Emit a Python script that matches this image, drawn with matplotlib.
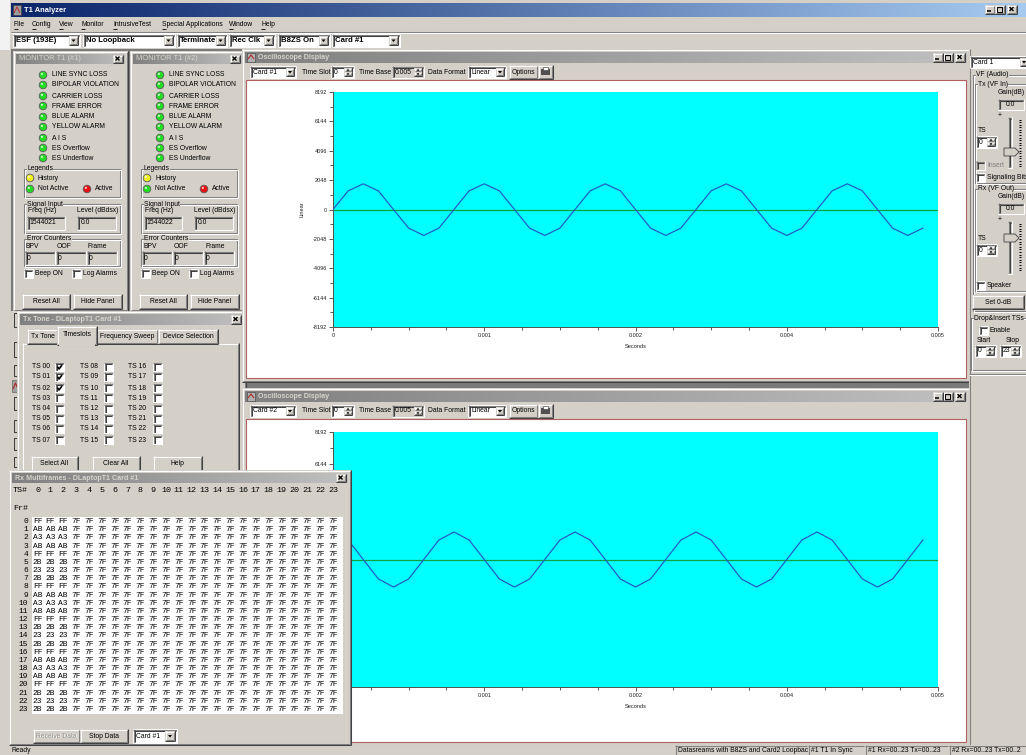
import numpy as np
import matplotlib
matplotlib.use("Agg")
import matplotlib.pyplot as plt
from matplotlib.patches import Rectangle, Circle, Polygon
from matplotlib.lines import Line2D
from matplotlib.colors import to_rgb
from matplotlib.ticker import FixedLocator, FixedFormatter

# ---------------------------------------------------------------- data
card1_linear = [0, 1300, 1790, 1300, 0, -1300, -1810, -1300,
                0, 1300, 1790, 1300, 0, -1300, -1810, -1300,
                0, 1300, 1790, 1300, 0, -1300, -1810, -1300,
                0, 1300, 1790, 1300, 0, -1300, -1810, -1300,
                0, 1300, 1790, 1300, 0, -1300, -1810, -1300]
card2_linear = [1770, 1250, 0, -1250, -1770, -1250, 0, 1250,
                1770, 1250, 0, -1250, -1770, -1250, 0, 1250,
                1770, 1250, 0, -1250, -1770, -1250, 0, 1250,
                1770, 1250, 0, -1250, -1770, -1250, 0, 1250,
                1770, 1250, 0, -1250, -1770, -1250, 0, 1250]
sample_period = 0.000125
time_base = 0.005
time_ticks = [0.0, 0.00125, 0.0025, 0.00375, 0.005]
time_tick_labels = ["0", "0.001", "0.002", "0.004", "0.005"]
level_ticks = [-8192, -6144, -4096, -2048, 0, 2048, 4096, 6144, 8192]
level_tick_labels = ["-8192", "-6144", "-4096", "-2048", "0", "2048", "4096", "6144", "8192"]

menu_items = ["File", "Config", "View", "Monitor", "IntrusiveTest",
              "Special Applications", "Window", "Help"]
toolbar_items = ["ESF (193E)", "No Loopback", "Terminate", "Rec Clk", "B8ZS On", "Card #1"]
alarm_names = ["LINE SYNC LOSS", "BIPOLAR VIOLATION", "CARRIER LOSS", "FRAME ERROR",
               "BLUE ALARM", "YELLOW ALARM", "A I S", "ES Overflow", "ES Underflow"]
monitor_titles = ["MONITOR T1 (#1)", "MONITOR T1 (#2)"]
freq_readings = ["1544021", "1544022"]
level_readings = ["0.0", "0.0"]
error_counts = [["0", "0", "0"], ["0", "0", "0"]]
timeslots_checked = [0, 1, 2]
rx_ts_0_2 = ["FF", "AB", "A3", "AB", "FF", "2B", "23", "2B",
             "FF", "AB", "A3", "AB", "FF", "2B", "23", "2B",
             "FF", "AB", "A3", "AB", "FF", "2B", "23", "2B"]
rx_idle_code = "7F"
status_panes = ["Datasreams with B8ZS and Card2 Loopbac", "#1 T1 In Sync",
                "#1 Rx=00..23 Tx=00..23", "#2 Rx=00..23 Tx=00..2"]

# ---------------------------------------------------------------- style
W, H = 1026, 755
FACE = "#D4D0C8"
SHADOW = "#808080"
DKSHADOW = "#404040"
HILITE = "#FFFFFF"
UI = ["Liberation Sans", "DejaVu Sans"]
MONO = ["Liberation Mono", "DejaVu Sans Mono"]
FS = 4.9

fig = plt.figure(figsize=(W / 100, H / 100), dpi=100)
bg = fig.add_axes([0, 0, 1, 1], zorder=0)
ov = fig.add_axes([0, 0, 1, 1], zorder=5)
for a in (bg, ov):
    a.axis("off")
ov.patch.set_visible(False)

_z = [10]


def Z():
    _z[0] += 1
    return _z[0]


def rect(ax, x0, y0, x1, y1, fc, ec="none", lw=0.0):
    ax.add_patch(Rectangle((x0, y0), x1 - x0, y1 - y0, facecolor=fc,
                           edgecolor=ec, linewidth=lw, zorder=Z()))


def seg(ax, xs, ys, c, lw=1.0, ls="-"):
    ax.add_line(Line2D(xs, ys, color=c, linewidth=0.75 * lw, linestyle=ls,
                       zorder=Z(), solid_capstyle="butt"))


def txt(ax, x, y, s, size=FS, color="black", ha="left", va="center",
        bold=False, family=None, **kw):
    ax.text(x, y, s, fontsize=size, color=color, ha=ha, va=va,
            fontweight="bold" if bold else "normal",
            family=family or UI, zorder=Z(), **kw)


def hl(ax, x0, x1, y, c):
    seg(ax, [x0, x1], [y + 0.5, y + 0.5], c)


def vl(ax, x, y0, y1, c):
    seg(ax, [x + 0.5, x + 0.5], [y0, y1], c)


def sunken(ax, x0, y0, x1, y1, fc="white"):
    rect(ax, x0, y0, x1, y1, fc)
    hl(ax, x0, x1, y0, SHADOW)
    vl(ax, x0, y0, y1, SHADOW)
    hl(ax, x0 + 1, x1 - 1, y0 + 1, DKSHADOW)
    vl(ax, x0 + 1, y0 + 1, y1 - 1, DKSHADOW)
    hl(ax, x0, x1, y1 - 1, HILITE)
    vl(ax, x1 - 1, y0, y1, HILITE)


def raised(ax, x0, y0, x1, y1, fc=FACE):
    rect(ax, x0, y0, x1, y1, fc)
    hl(ax, x0, x1 - 1, y0, HILITE)
    vl(ax, x0, y0, y1 - 1, HILITE)
    hl(ax, x0, x1, y1 - 1, DKSHADOW)
    vl(ax, x1 - 1, y0, y1, DKSHADOW)
    hl(ax, x0 + 1, x1 - 1, y1 - 2, SHADOW)
    vl(ax, x1 - 2, y0 + 1, y1 - 1, SHADOW)


def button(ax, x0, y0, x1, y1, label, color="black", size=FS):
    raised(ax, x0, y0, x1, y1)
    if color != "black":
        txt(ax, (x0 + x1) / 2 + 0.7, (y0 + y1) / 2 + 0.7, label, size=size,
            color="white", ha="center")
    txt(ax, (x0 + x1) / 2, (y0 + y1) / 2, label, size=size, color=color, ha="center")


def tri(ax, cx, cy, s=2.0, up=False, c="black"):
    if up:
        pts = [[cx - s, cy + s / 2], [cx + s, cy + s / 2], [cx, cy - s / 2 - 0.5]]
    else:
        pts = [[cx - s, cy - s / 2], [cx + s, cy - s / 2], [cx, cy + s / 2 + 0.5]]
    ax.add_patch(Polygon(pts, closed=True, facecolor=c, edgecolor="none", zorder=Z()))


def combo(ax, x0, y0, x1, y1, label, bold=False, size=FS):
    sunken(ax, x0, y0, x1, y1, "white")
    bw = y1 - y0 - 4
    raised(ax, x1 - 2 - bw, y0 + 2, x1 - 2, y1 - 2)
    tri(ax, x1 - 2 - bw / 2, (y0 + y1) / 2, 2.0)
    txt(ax, x0 + 3, (y0 + y1) / 2, label, size=size, bold=bold)


def spin(ax, x0, y0, x1, y1, label, fc="white", size=FS):
    sunken(ax, x0, y0, x1, y1, fc)
    bw = 8
    ym = (y0 + y1) / 2
    raised(ax, x1 - 2 - bw, y0 + 2, x1 - 2, ym)
    raised(ax, x1 - 2 - bw, ym, x1 - 2, y1 - 2)
    tri(ax, x1 - 2 - bw / 2, (y0 + 2 + ym) / 2, 1.5, up=True)
    tri(ax, x1 - 2 - bw / 2, (ym + y1 - 2) / 2, 1.5)
    txt(ax, x0 + 3, ym, label, size=size)


def checkbox(ax, x, y, checked=False, label=None, lx=None, disabled=False):
    sunken(ax, x, y, x + 9, y + 9, FACE if disabled else "white")
    if checked:
        seg(ax, [x + 2.5, x + 4, x + 7], [y + 4.3, y + 6.5, y + 2.5], "black", lw=1.6)
    if label:
        txt(ax, lx if lx is not None else x + 12, y + 4.5, label,
            color=SHADOW if disabled else "black")


def group(ax, x0, y0, x1, y1, label=None):
    ax.add_patch(Rectangle((x0 + 0.5, y0 + 0.5), x1 - x0 - 2, y1 - y0 - 2, fill=False,
                           edgecolor=SHADOW, linewidth=0.75, zorder=Z()))
    ax.add_patch(Rectangle((x0 + 1.5, y0 + 1.5), x1 - x0 - 2, y1 - y0 - 2, fill=False,
                           edgecolor=HILITE, linewidth=0.75, zorder=Z()))
    if label:
        txt(ax, x0 + 4, y0 + 1, label,
            bbox=dict(facecolor=FACE, edgecolor="none", pad=0.2))


def led(ax, x, y, color, r=3.8):
    ax.add_patch(Circle((x, y), r, facecolor=color, edgecolor="#5A5A5A",
                        linewidth=0.6, zorder=Z()))
    ax.add_patch(Circle((x - 1.1, y - 1.1), 1.1, facecolor="white", edgecolor="none",
                        alpha=0.75, zorder=Z()))


def gradient(ax, x0, y0, x1, y1, c0, c1):
    a = np.array(to_rgb(c0))
    b = np.array(to_rgb(c1))
    t = np.linspace(0, 1, 256)[None, :, None]
    img = a + (b - a) * t
    ax.imshow(img, extent=(x0, x1, y1, y0), aspect="auto",
              interpolation="bilinear", zorder=Z())


def cap_btn(ax, x0, y0, kind, w=10, h=9):
    raised(ax, x0, y0, x0 + w, y0 + h)
    cx, cy = x0 + w / 2 - 0.5, y0 + h / 2 - 0.5
    if kind == "min":
        seg(ax, [cx - 2.5, cx + 1.5], [cy + 2.2, cy + 2.2], "black", lw=1.5)
    elif kind == "max":
        ax.add_patch(Rectangle((cx - 2.5, cy - 2.5), 5, 5, fill=False, edgecolor="black",
                               linewidth=0.7, zorder=Z()))
        seg(ax, [cx - 2.5, cx + 2.5], [cy - 2.2, cy - 2.2], "black", lw=1.2)
    else:
        seg(ax, [cx - 2, cx + 2], [cy - 2, cy + 2], "black", lw=1.3)
        seg(ax, [cx - 2, cx + 2], [cy + 2, cy - 2], "black", lw=1.3)


def window(ax, x0, y0, x1, y1, title, bold=True, title_h=11, icon=False,
           buttons=("close",), active=False, tsize=5.1):
    raised(ax, x0, y0, x1, y1)
    c0, c1 = ("#0A246A", "#A6CAF0") if active else ("#808080", "#C0C0C0")
    gradient(ax, x0 + 3, y0 + 3, x1 - 3, y0 + 3 + title_h, c0, c1)
    tx = x0 + 6
    if icon:
        rect(ax, x0 + 5, y0 + 4, x0 + 13, y0 + 3 + title_h - 1, "#B0B0B0", ec="#505050", lw=0.5)
        seg(ax, [x0 + 6, x0 + 9, x0 + 12], [y0 + 10, y0 + 6, y0 + 10], "#B02020", lw=1)
        tx = x0 + 16
    txt(ax, tx, y0 + 3 + title_h / 2, title, color="white" if active else "#D8D4CC",
        bold=bold, size=tsize)
    bx = x1 - 5
    for k in reversed(buttons):
        w = 10
        cap_btn(ax, bx - w, y0 + 4, k, w=w, h=title_h - 2)
        bx -= (w + 2) if k == "close" else w


# ---------------------------------------------------------------- background
rect(bg, 0, 0, W, H, FACE)
rect(bg, 0, 0, 10, 50, "#F2F2F2")
vl(bg, 10, 49, 745, DKSHADOW)
# main title bar
gradient(bg, 11, 3, W, 17, "#0A246A", "#A6CAF0")
rect(bg, 13, 5, 21, 15, "#9C9C9C", ec="#404040", lw=0.5)
seg(bg, [14, 17, 20], [13, 7, 13], "#C03030", lw=1)
txt(bg, 24, 10, "T1 Analyzer", color="white", bold=True, size=5.4)
cap_btn(bg, 985, 5, "min", w=10, h=9)
cap_btn(bg, 995, 5, "max", w=10, h=9)
cap_btn(bg, 1007, 5, "close", w=10, h=9)

# menu bar
menu_x = [14, 32, 59, 81, 113, 162, 229, 261]
for mx, m in zip(menu_x, menu_items):
    txt(bg, mx, 25, m)
    seg(bg, [mx, mx + 3.5], [28.5, 28.5], "black", lw=0.8)
hl(bg, 11, W, 31, SHADOW)
hl(bg, 11, W, 32, HILITE)

# main toolbar combos
combo_x = [(13, 80), (83, 175), (177, 227), (229, 275), (278, 330), (332, 400)]
for (x0, x1), lab in zip(combo_x, toolbar_items):
    combo(bg, x0, 34, x1, 47, lab, bold=True, size=5.6)

# MDI client area
rect(bg, 11, 49, 969, 745, "#7A7A7A")

# ---------------------------------------------------------------- monitor panels
led_rows = [75, 85, 96, 106, 117, 127, 138, 148, 158]
for k in range(2):
    dx = 117 * k
    window(bg, 13 + dx, 51, 128 + dx, 311, monitor_titles[k], bold=False, title_h=10,
           tsize=5.4)
    for yy, name in zip(led_rows, alarm_names):
        led(bg, 43 + dx, yy, "#22DD22")
        txt(bg, 52 + dx, yy, name)
    group(bg, 23 + dx, 168, 121 + dx, 198, "Legends")
    led(bg, 30 + dx, 178, "#F0F020")
    txt(bg, 38 + dx, 178, "History")
    led(bg, 30 + dx, 189, "#22DD22")
    txt(bg, 38 + dx, 189, "Not Active")
    led(bg, 87 + dx, 189, "#EE1010")
    txt(bg, 95 + dx, 189, "Active")
    group(bg, 23 + dx, 203, 121 + dx, 234, "Signal Input")
    txt(bg, 28 + dx, 211, "Freq (Hz)")
    txt(bg, 77 + dx, 211, "Level (dBdsx)")
    sunken(bg, 27 + dx, 216, 65 + dx, 230, FACE)
    txt(bg, 29 + dx, 223, freq_readings[k])
    sunken(bg, 77 + dx, 216, 116 + dx, 230, FACE)
    txt(bg, 81 + dx, 223, level_readings[k])
    group(bg, 23 + dx, 238, 121 + dx, 267, "Error Counters")
    txt(bg, 26 + dx, 246, "BPV")
    txt(bg, 57 + dx, 246, "OOF")
    txt(bg, 88 + dx, 246, "Frame")
    for (bx0, bx1), val in zip([(25, 55), (56, 86), (87, 117)], error_counts[k]):
        sunken(bg, bx0 + dx, 251, bx1 + dx, 265, FACE)
        txt(bg, bx0 + dx + 2, 258, val)
    checkbox(bg, 24 + dx, 269, label="Beep ON", lx=35 + dx)
    checkbox(bg, 72 + dx, 269, label="Log Alarms", lx=83 + dx)
    button(bg, 22 + dx, 294, 70 + dx, 309, "Reset All")
    button(bg, 73 + dx, 294, 122 + dx, 309, "Hide Panel")

# hidden window fragments at the left
rect(bg, 11, 311, 19, 472, FACE)
for (ya, yb) in [(313, 327), (342, 357), (365, 376), (397, 410), (420, 432), (438, 450), (457, 467)]:
    seg(bg, [17, 13.5, 13.5, 17], [ya, ya, yb, yb], DKSHADOW, lw=1)
rect(bg, 12, 380, 19, 392, "#A0A0A0", ec="#505050", lw=0.4)
seg(bg, [13, 15.5, 18], [389, 383, 389], "#B02020", lw=1)

# ---------------------------------------------------------------- Tx Tone window
window(bg, 17, 311, 246, 482, "Tx Tone - DLaptopT1 Card #1", title_h=11)
tabs = [(27, 58, "Tx Tone"), (58, 96, "Timeslots"), (96, 158, "Frequency Sweep"),
        (158, 218, "Device Selection")]
raised(bg, 22, 343, 239, 482)
for x0, x1, lab in tabs:
    if lab == "Timeslots":
        continue
    raised(bg, x0, 329, x1, 344)
    txt(bg, (x0 + x1) / 2, 336.5, lab, ha="center")
raised(bg, 57, 326, 97, 345)
rect(bg, 59, 342, 95, 346, FACE)
txt(bg, 77, 335, "Timeslots", ha="center")
ts_rows = [367, 377, 388, 398, 409, 419, 429, 440]
col_lab_x = [32, 80, 128]
col_box_x = [55, 104, 153]
for c in range(3):
    for r in range(8):
        n = c * 8 + r
        txt(bg, col_lab_x[c], ts_rows[r], "TS %02d" % n)
        checkbox(bg, col_box_x[c], ts_rows[r] - 4.5, checked=(n in timeslots_checked))
button(bg, 31, 456, 78, 471, "Select All")
button(bg, 92, 456, 140, 471, "Clear All")
button(bg, 153, 456, 202, 471, "Help")

# ---------------------------------------------------------------- oscilloscope windows
scope_frames = [(49, 382, "Card #1"), (388, 746, "Card #2")]
for (y0, y1, card) in scope_frames:
    window(bg, 242, y0, 970, y1, "Oscilloscope Display", title_h=11, icon=True,
           buttons=("min", "max", "close"))
    ty = y0 + 23
    combo(bg, 250, ty - 6, 296, ty + 6, card)
    txt(bg, 302, ty, "Time Slot")
    spin(bg, 331, ty - 6, 354, ty + 6, "0")
    txt(bg, 359, ty, "Time Base")
    spin(bg, 392, ty - 6, 424, ty + 6, "0.005", fc=FACE)
    txt(bg, 428, ty, "Data Format")
    combo(bg, 468, ty - 6, 506, ty + 6, "Linear")
    button(bg, 509, ty - 7, 538, ty + 7, "Options")
    raised(bg, 538, ty - 7, 553, ty + 7)
    rect(bg, 541, ty - 3, 550, ty + 3, "#505050")
    rect(bg, 543, ty - 5, 548, ty - 2, "white", ec="#303030", lw=0.4)
    # white plot area with reddish frame
    rect(bg, 246, y0 + 31, 966, y1 - 4, "white", ec="#B06060", lw=0.8)

# ---------------------------------------------------------------- right control panel
rect(bg, 969, 49, W, 745, FACE)
vl(bg, 969, 49, 745, SHADOW)
combo(bg, 970, 56, 1030, 68, "Card 1")
group(bg, 972, 74, 1032, 312, "VF (Audio)")
group(bg, 974, 83, 1032, 184, "Tx (VF In)")
group(bg, 974, 188, 1032, 292, "Rx (VF Out)")
for gy, sy0, sy1, thumb, tsy in [(93, 113, 168, 152, 130), (197, 217, 274, 238, 238)]:
    txt(bg, 998, gy, "Gain(dB)")
    sunken(bg, 998, gy + 6, 1024, gy + 17, FACE)
    txt(bg, 1010, gy + 11.5, "0.0", ha="center")
    txt(bg, 1000, sy0 + 2, "+", ha="center", size=5.0)
    sunken(bg, 1008, sy0 + 4, 1012, sy1, FACE)
    for yy in np.arange(sy0 + 6, sy1 - 2, 2.6):
        hl(bg, 1019, 1021, yy, "black")
    bg.add_patch(Polygon([[1004, thumb - 4], [1015, thumb - 4], [1019, thumb],
                          [1015, thumb + 4], [1004, thumb + 4]], closed=True,
                         facecolor=FACE, edgecolor=DKSHADOW, linewidth=0.6, zorder=Z()))
    txt(bg, 978, tsy, "TS")
    spin(bg, 976, tsy + 6, 997, tsy + 18, "0")
checkbox(bg, 976, 161, label="Insert", lx=987, disabled=True)
checkbox(bg, 976, 173, label="Signaling Bits", lx=987)
checkbox(bg, 976, 281, label="Speaker", lx=987)
button(bg, 972, 295, 1024, 309, "Set 0-dB")
group(bg, 970, 317, 1032, 371, "Drop&Insert TSs")
checkbox(bg, 979, 326, label="Enable", lx=990)
txt(bg, 977, 340, "Start")
txt(bg, 1006, 340, "Stop")
spin(bg, 975, 345, 996, 357, "0")
spin(bg, 1000, 345, 1021, 357, "23")
hl(bg, 969, W, 373, SHADOW)
hl(bg, 969, W, 374, HILITE)

# ---------------------------------------------------------------- status bar
rect(bg, 11, 745, W, H, FACE)
txt(bg, 12, 750.5, "Ready")
pane_x = [(675, 807), (808, 864), (865, 948), (949, 1030)]
for (x0, x1), s in zip(pane_x, status_panes):
    hl(bg, x0, x1, 745, SHADOW)
    vl(bg, x0, 745, H, SHADOW)
    txt(bg, x0 + 3, 750.5, s)


# ---------------------------------------------------------------- oscilloscope plots
def scope_axes(top_px, bottom_px, values):
    left, right = 333, 938
    ax = fig.add_axes([left / W, 1 - bottom_px / H, (right - left) / W,
                       (bottom_px - top_px) / H], zorder=1)
    ax.set_facecolor("#00FFFF")
    t = np.arange(len(values)) * sample_period
    ax.axhline(0, color="#10A040", lw=0.9, zorder=2)
    ax.plot(t, values, color="#2456C8", lw=0.85, zorder=3)
    ax.set_xlim(0, time_base)
    ax.set_ylim(level_ticks[0], level_ticks[-1])
    ax.xaxis.set_major_locator(FixedLocator(time_ticks))
    ax.xaxis.set_major_formatter(FixedFormatter(time_tick_labels))
    ax.xaxis.set_minor_locator(FixedLocator(np.linspace(0, time_base, 17)))
    ax.yaxis.set_major_locator(FixedLocator(level_ticks))
    ax.yaxis.set_major_formatter(FixedFormatter(level_tick_labels))
    ax.yaxis.set_minor_locator(FixedLocator(np.linspace(level_ticks[0], level_ticks[-1], 17)))
    ax.tick_params(which="major", direction="out", length=3, width=0.6, color="#404040",
                   labelsize=4.0, pad=1.2, labelcolor="#202020")
    ax.tick_params(which="minor", direction="out", length=2, width=0.6, color="#404040")
    for lab in ax.get_xticklabels() + ax.get_yticklabels():
        lab.set_family(UI)
    for s in ("top", "right"):
        ax.spines[s].set_visible(False)
    for s in ("left", "bottom"):
        ax.spines[s].set_color("#505050")
        ax.spines[s].set_linewidth(0.7)
    h = bottom_px - top_px
    ax.set_ylabel("Linear", fontsize=4.1, family=UI, color="#202020")
    ax.yaxis.set_label_coords(-28 / 605, 0.5)
    ax.set_xlabel("Seconds", fontsize=4.1, family=UI, color="#202020")
    ax.xaxis.set_label_coords(0.5, -17 / h)
    return ax


scope_axes(92, 327, card1_linear)
scope_axes(432, 687, card2_linear)

# ---------------------------------------------------------------- Rx Multiframes window (on top)
window(ov, 9, 470, 351, 745, "Rx Multiframes - DLaptopT1 Card #1", title_h=10)
col_x0, col_dx = 37.5, 12.85
row_y0, row_dy = 521.5, 8.17
txt(ov, 13, 490.5, "TS#", family=MONO, size=6.0)
for c in range(24):
    txt(ov, col_x0 + col_dx * c, 490.5, str(c), family=MONO, size=6.0, ha="center")
txt(ov, 13, 509, "Fr#", family=MONO, size=6.0)
rect(ov, 32, 517, 343, 714, "white")
for r in range(24):
    y = row_y0 + row_dy * r
    txt(ov, 28, y, str(r), family=MONO, size=5.7, ha="right", color="black")
    for c in range(24):
        code = rx_ts_0_2[r] if c < 3 else rx_idle_code
        txt(ov, col_x0 + col_dx * c, y, code, family=MONO, size=5.7, ha="center",
            color="black")
button(ov, 33, 729, 80, 743, "Receive Data", color="#909090")
button(ov, 80, 729, 128, 743, "Stop Data")
combo(ov, 133, 729, 177, 743, "Card #1")

for a in (bg, ov):
    a.set_xlim(0, W)
    a.set_ylim(H, 0)

fig.savefig("out.png", dpi=100)
